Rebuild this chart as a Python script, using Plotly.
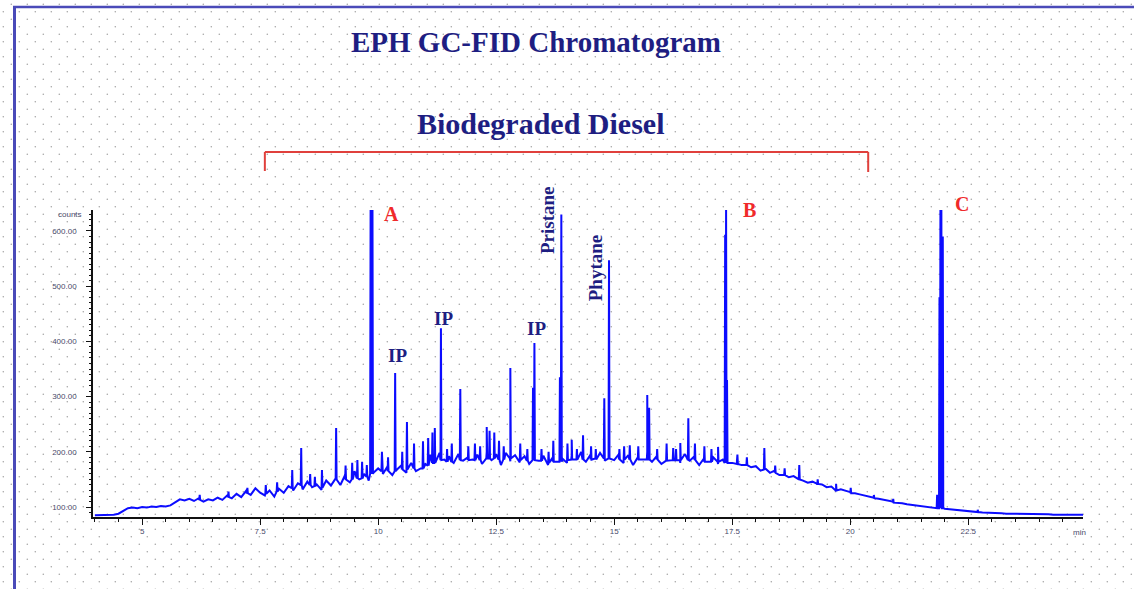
import base64
import numpy as np
import plotly.graph_objects as go

# ---- figure geometry (pixels) ----
W, H = 1134, 589
ML, MR, MT, MB = 93, 51, 210, 72
PW, PH = W - ML - MR, H - MT - MB


def px(xp):
    return (xp - ML) / PW


def py(yp):
    return (H - MB - yp) / PH


# ---- chromatogram data ----
# detector baseline sampled every 0.1 min from 4.0 to 25.0 min
base_times = np.round(np.arange(4.0, 25.001, 0.1), 1)
base_signal = [
    85, 85, 85, 86, 86, 88, 93, 98, 99, 98,            # 4.0 - 4.9
    100, 99, 101, 100, 102, 101, 103, 108, 114, 112,   # 5.0 - 5.9
    115, 111, 116, 110, 114, 112, 117, 113, 121, 116,  # 6.0 - 6.9
    124, 118, 129, 122, 134, 126, 121, 130, 119, 133,  # 7.0 - 7.9
    126, 138, 130, 143, 132, 146, 136, 141, 131, 148,  # 8.0 - 8.9
    139, 152, 140, 158, 145, 165, 150, 160, 148, 162,  # 9.0 - 9.9
    170, 160, 174, 158, 168, 176, 162, 180, 165, 170,  # 10.0 - 10.9
    178, 195, 182, 198, 186, 192, 180, 196, 184, 190,  # 11.0 - 11.9
    186, 195, 178, 200, 185, 196, 176, 198, 183, 194,  # 12.0 - 12.9
    181, 192, 178, 196, 184, 193, 176, 190, 182, 188,  # 13.0 - 13.9
    180, 194, 186, 200, 182, 195, 188, 198, 184, 192,  # 14.0 - 14.9
    185, 196, 180, 194, 176, 190, 186, 200, 182, 192,  # 15.0 - 15.9
    178, 193, 185, 198, 180, 196, 184, 192, 176, 188,  # 16.0 - 16.9
    182, 190, 178, 186, 192, 180, 184, 176, 180, 172,  # 17.0 - 17.9
    174, 166, 170, 162, 166, 158, 162, 154, 156, 150,  # 18.0 - 18.9
    148, 144, 146, 140, 141, 136, 137, 133, 132, 129,  # 19.0 - 19.9
    127, 125, 123, 121, 119, 117, 115, 113, 111, 110,  # 20.0 - 20.9
    108, 107, 105, 104, 103, 102, 101, 100, 99, 98,    # 21.0 - 21.9
    97, 96, 95, 94, 93, 92, 91, 91, 90, 90,            # 22.0 - 22.9
    89, 89, 89, 88, 88, 88, 88, 87, 87, 87,            # 23.0 - 23.9
    87, 87, 87, 86, 86, 86, 86, 86, 86, 86,            # 24.0 - 24.9
    86,                                                # 25.0
]

# resolved peaks: retention time (min), apex signal, signal at the peak foot
peak_rt = [6.22, 6.83, 7.23, 7.62, 7.86, 8.18, 8.37, 8.56, 8.66, 8.81,
           9.11, 9.31, 9.45, 9.56, 9.66, 9.76, 9.84, 9.86, 9.88, 10.08,
           10.21, 10.36, 10.51, 10.61, 10.76, 10.95, 11.06, 11.15, 11.20, 11.33,
           11.46, 11.56, 11.74, 11.91, 12.05, 12.16, 12.30, 12.36, 12.46, 12.56,
           12.66, 12.80, 13.01, 13.16, 13.28, 13.31, 13.46, 13.61, 13.71, 13.85,
           13.88, 14.01, 14.10, 14.21, 14.34, 14.51, 14.61, 14.79, 14.89, 15.11,
           15.21, 15.33, 15.51, 15.70, 15.74, 15.91, 16.11, 16.25, 16.31, 16.40,
           16.57, 16.71, 16.91, 17.06, 17.20, 17.35, 17.37, 17.39, 17.61, 17.81,
           18.18, 18.41, 18.61, 18.92, 19.31, 19.70, 20.01, 20.50, 20.91, 21.84,
           21.89, 21.91, 21.93, 21.96, 22.70]
peak_top = [122, 128, 135, 140, 145, 167, 207, 160, 155, 167,
            243, 175, 180, 185, 182, 176, 640, 640, 640, 200,
            190, 343, 200, 254, 215, 219, 225, 235, 243, 424,
            205, 215, 314, 210, 215, 210, 245, 238, 235, 220,
            210, 352, 215, 205, 316, 397, 205, 200, 220, 335,
            630, 215, 222, 205, 230, 210, 205, 297, 547, 205,
            210, 212, 210, 303, 280, 205, 215, 207, 205, 216,
            261, 215, 210, 205, 209, 593, 640, 330, 195, 190,
            207, 175, 170, 176, 150, 142, 135, 122, 115, 122,
            480, 640, 640, 590, 95]
peak_foot = [113, 118, 125, 124, 128, 134, 140, 140, 138, 135,
             150, 150, 150, 152, 152, 155, 160, 160, 160, 165,
             165, 165, 168, 168, 170, 170, 175, 180, 180, 185,
             182, 182, 185, 185, 185, 185, 188, 188, 188, 186,
             186, 188, 185, 184, 185, 185, 184, 180, 182, 182,
             182, 185, 186, 186, 186, 186, 186, 188, 188, 186,
             186, 186, 186, 186, 186, 186, 184, 185, 185, 185,
             185, 185, 182, 182, 182, 180, 180, 180, 178, 176,
             168, 162, 158, 150, 142, 130, 125, 116, 108, 98,
             98, 98, 98, 98, 91]

HALF_WIDTH = 0.01  # min, half width of a peak at its foot

points = list(zip(base_times.tolist(), base_signal))
for rt, top, foot in zip(peak_rt, peak_top, peak_foot):
    points += [(rt - HALF_WIDTH, foot), (rt, top), (rt + HALF_WIDTH, foot)]
points.sort(key=lambda p: p[0])
trace_t = [p[0] for p in points]
trace_v = [p[1] for p in points]

# ---- axis ticks ----
x_tick_vals = [5, 7.5, 10, 12.5, 15, 17.5, 20, 22.5]
x_tick_text = ["5", "7.5", "10", "12.5", "15", "17.5", "20", "22.5"]
y_tick_vals = [100, 200, 300, 400, 500, 600]
y_tick_text = [f"{v:.2f}" for v in y_tick_vals]

# ---- labels ----
letter_labels = ["A", "B", "C"]
letter_t = [10.28, 17.86, 22.37]
letter_v = [631, 638, 649]

ip_t = [10.40, 11.38, 13.35]
ip_v = [374, 442, 424]

compound_labels = ["Pristane", "Phytane"]
compound_t = [13.60, 14.62]
compound_v = [620, 533]

bracket_start, bracket_end = 7.6, 20.38

NAVY = "#1e1e82"
RED = "#f02a2a"
SERIF = "Liberation Serif, Times New Roman, serif"

fig = go.Figure()
fig.add_trace(go.Scatter(
    x=trace_t, y=trace_v, mode="lines",
    line=dict(color="#0c0cff", width=2),
    hoverinfo="skip", showlegend=False,
))

Y0, Y1 = 82, 638


def vy(v):
    # signal value -> paper fraction (lets labels sit above the axis top)
    return (v - Y0) / (Y1 - Y0)


annotations = []
for lab, t, v in zip(letter_labels, letter_t, letter_v):
    annotations.append(dict(x=t, y=vy(v), xref="x", yref="paper", text=lab, showarrow=False,
                            font=dict(family=SERIF, size=20, color=RED, weight="bold"),
                            xanchor="center", yanchor="middle"))
for t, v in zip(ip_t, ip_v):
    annotations.append(dict(x=t, y=v, xref="x", yref="y", text="IP", showarrow=False,
                            font=dict(family=SERIF, size=19, color=NAVY, weight="bold"),
                            xanchor="center", yanchor="middle"))
for lab, t, v in zip(compound_labels, compound_t, compound_v):
    annotations.append(dict(x=t, y=v, xref="x", yref="y", text=lab, showarrow=False,
                            textangle=-90,
                            font=dict(family=SERIF, size=19, color=NAVY, weight="bold"),
                            xanchor="center", yanchor="middle"))

# titles
annotations.append(dict(x=px(536), y=py(42), xref="paper", yref="paper",
                        text="EPH GC-FID Chromatogram", showarrow=False,
                        font=dict(family=SERIF, size=29, color=NAVY, weight="bold"),
                        xanchor="center", yanchor="middle"))
annotations.append(dict(x=px(541), y=py(123), xref="paper", yref="paper",
                        text="Biodegraded Diesel", showarrow=False,
                        font=dict(family=SERIF, size=30, color=NAVY, weight="bold"),
                        xanchor="center", yanchor="middle"))
# axis units
annotations.append(dict(x=px(84), y=py(214), xref="paper", yref="paper",
                        text="counts", showarrow=False,
                        font=dict(family="Arial, Liberation Sans", size=8, color="#4a4a6a"),
                        xanchor="right", yanchor="middle"))
annotations.append(dict(x=24.85, y=py(532), xref="x", yref="paper",
                        text="min", showarrow=False,
                        font=dict(family="Arial, Liberation Sans", size=8, color="#4a4a6a"),
                        xanchor="center", yanchor="middle"))

shapes = [
    # bracket over the diesel range
    dict(type="line", xref="x", yref="paper", x0=bracket_start, x1=bracket_end,
         y0=py(152), y1=py(152), line=dict(color="#e0403c", width=2)),
    dict(type="line", xref="x", yref="paper", x0=bracket_start, x1=bracket_start,
         y0=py(152), y1=py(171), line=dict(color="#e0403c", width=2)),
    dict(type="line", xref="x", yref="paper", x0=bracket_end, x1=bracket_end,
         y0=py(152), y1=py(172), line=dict(color="#e0403c", width=2)),
    # page frame
    dict(type="line", xref="paper", yref="paper", x0=px(14.5), x1=px(14.5),
         y0=py(6), y1=py(H + 2), line=dict(color="#4a4ab8", width=3)),
    dict(type="line", xref="paper", yref="paper", x0=px(13), x1=px(W + 2),
         y0=py(7), y1=py(7), line=dict(color="#4a4ab8", width=2.5)),
]

# dotted page background
svg = (
    f'<svg xmlns="http://www.w3.org/2000/svg" width="{W}" height="{H}" '
    f'viewBox="0 0 {W} {H}" preserveAspectRatio="none">'
    '<defs><pattern id="d" x="0" y="0" width="16" height="15" patternUnits="userSpaceOnUse">'
    '<circle cx="3.3" cy="11.7" r="0.8" fill="#a4a4a4"/>'
    '<circle cx="11.3" cy="4.2" r="0.8" fill="#a4a4a4"/>'
    '</pattern></defs>'
    f'<rect width="{W}" height="{H}" fill="url(#d)"/></svg>'
)
bg_src = "data:image/svg+xml;base64," + base64.b64encode(svg.encode()).decode()

fig.update_layout(
    width=W, height=H,
    margin=dict(l=ML, r=MR, t=MT, b=MB, pad=0),
    paper_bgcolor="white",
    plot_bgcolor="rgba(0,0,0,0)",
    showlegend=False,
    annotations=annotations,
    shapes=shapes,
    images=[dict(source=bg_src, xref="paper", yref="paper",
                 x=px(0), y=py(0), sizex=W / PW, sizey=H / PH,
                 xanchor="left", yanchor="top", sizing="stretch", layer="below")],
    xaxis=dict(
        range=[3.96, 24.93], showgrid=False, zeroline=False,
        showline=True, linecolor="#111", linewidth=1.5,
        tickmode="array", tickvals=x_tick_vals, ticktext=x_tick_text,
        ticks="outside", ticklen=6, tickwidth=1.2, tickcolor="#111",
        tickfont=dict(family="Arial, Liberation Sans", size=8, color="#4a4a6a"),
        minor=dict(dtick=0.5, tick0=0, ticks="outside", ticklen=3, tickcolor="#111"),
    ),
    yaxis=dict(
        range=[Y0, Y1], showgrid=False, zeroline=False,
        showline=True, linecolor="#111", linewidth=1.5,
        tickmode="array", tickvals=y_tick_vals, ticktext=y_tick_text,
        ticks="outside", ticklen=5, tickwidth=1.2, tickcolor="#111",
        ticklabelstandoff=8,
        tickfont=dict(family="Arial, Liberation Sans", size=8, color="#4a4a6a"),
        minor=dict(dtick=10, tick0=0, ticks="outside", ticklen=2.5, tickcolor="#111"),
    ),
)

fig.write_html("out.html")
